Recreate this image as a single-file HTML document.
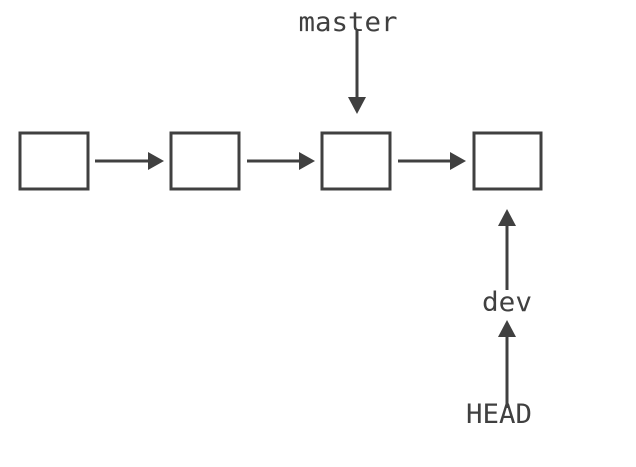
<!DOCTYPE html>
<html><head><style>body{margin:0;background:#fff}</style></head><body>
<svg width="636" height="462" xmlns="http://www.w3.org/2000/svg">
<g fill="none" stroke="#404040" stroke-width="3">
<rect x="20" y="133" width="68" height="56"/>
<rect x="171" y="133" width="68" height="56"/>
<rect x="322" y="133" width="68" height="56"/>
<rect x="474" y="133" width="67" height="56"/>
<line x1="95" y1="161" x2="150" y2="161"/>
<line x1="247" y1="161" x2="301" y2="161"/>
<line x1="398" y1="161" x2="452" y2="161"/>
<line x1="357" y1="30" x2="357" y2="100"/>
<line x1="507" y1="222" x2="507" y2="290"/>
<line x1="507" y1="333" x2="507" y2="408"/>
</g>
<g fill="#404040">
<polygon points="148,152 164,161 148,170"/>
<polygon points="299,152 315,161 299,170"/>
<polygon points="450,152 466,161 450,170"/>
<polygon points="348,97 366,97 357,114"/>
<polygon points="498,226 516,226 507,209"/>
<polygon points="498,337 516,337 507,320"/>
</g>
<g font-family="'DejaVu Sans Mono','Liberation Mono',monospace" font-size="27" fill="#404040" text-anchor="middle">
<text x="348" y="31" textLength="99" lengthAdjust="spacingAndGlyphs">master</text>
<text x="507" y="311" textLength="50" lengthAdjust="spacingAndGlyphs">dev</text>
<text x="499" y="423" textLength="66" lengthAdjust="spacingAndGlyphs">HEAD</text>
</g>
</svg>
</body></html>
